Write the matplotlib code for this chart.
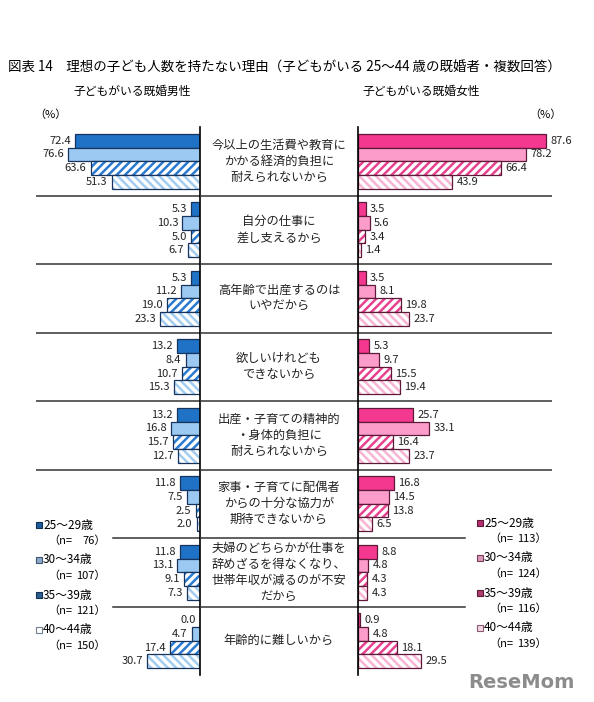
"""図表14: 理想の子ども人数を持たない理由 (male / female butterfly bars)."""

import matplotlib
matplotlib.use("Agg")
import matplotlib.pyplot as plt
from matplotlib.patches import Rectangle

plt.rcParams["font.family"] = ["Noto Sans CJK JP", "DejaVu Sans"]
plt.rcParams["hatch.linewidth"] = 1.8

W, H = 594, 702

reasons = [
    "今以上の生活費や教育に\nかかる経済的負担に\n耐えられないから",
    "自分の仕事に\n差し支えるから",
    "高年齢で出産するのは\nいやだから",
    "欲しいけれども\nできないから",
    "出産・子育ての精神的\n・身体的負担に\n耐えられないから",
    "家事・子育てに配偶者\nからの十分な協力が\n期待できないから",
    "夫婦のどちらかが仕事を\n辞めざるを得なくなり、\n世帯年収が減るのが不安\nだから",
    "年齢的に難しいから",
]
ages = ["25～29歳", "30～34歳", "35～39歳", "40～44歳"]
n_male = [76, 107, 121, 150]
n_female = [113, 124, 116, 139]

male = [
    [72.4, 5.3, 5.3, 13.2, 13.2, 11.8, 11.8, 0.0],
    [76.6, 10.3, 11.2, 8.4, 16.8, 7.5, 13.1, 4.7],
    [63.6, 5.0, 19.0, 10.7, 15.7, 2.5, 9.1, 17.4],
    [51.3, 6.7, 23.3, 15.3, 12.7, 2.0, 7.3, 30.7],
]
female = [
    [87.6, 3.5, 3.5, 5.3, 25.7, 16.8, 8.8, 0.9],
    [78.2, 5.6, 8.1, 9.7, 33.1, 14.5, 4.8, 4.8],
    [66.4, 3.4, 19.8, 15.5, 16.4, 13.8, 4.3, 18.1],
    [43.9, 1.4, 23.7, 19.4, 23.7, 6.5, 4.3, 29.5],
]

# (face, hatch colour, hatch) per age band
male_style = [("#1f72c6", None, None), ("#9cc9f2", None, None),
              ("white", "#2a7ad2", "////"), ("white", "#a3cdf0", "\\\\\\\\")]
female_style = [("#f4378f", None, None), ("#fb9ccb", None, None),
                ("white", "#e8418f", "////"), ("white", "#f8b4d3", "\\\\\\\\")]
male_edge = "#17345e"
female_edge = "#5e1838"
male_icon = [("#1d5c9a", "#0f2f55"), ("#8fa9c4", "#3a5574"),
             ("#2c5d8e", "#0f2f55"), ("white", "#6f7f90")]
female_icon = [("#b42f6d", "#5e1838"), ("#d99ab9", "#7a3b58"),
               ("#b0406f", "#5e1838"), ("#f4d6e4", "#8a5a70")]


def fx(px):
    return px / W


def fy(py):
    return 1 - py / H


fig = plt.figure(figsize=(W / 100, H / 100), dpi=100)

top, bot = 127, 675
ax_h = (bot - top) / H
axL = fig.add_axes([fx(36), fy(bot), (200 - 36) / W, ax_h])
axM = fig.add_axes([fx(200), fy(bot), (358 - 200) / W, ax_h])
axR = fig.add_axes([fx(358), fy(bot), (552 - 358) / W, ax_h])

axL.set_xlim((200 - 36) / 1.72, 0)
axR.set_xlim(0, (552 - 358) / 2.15)
axM.set_xlim(0, 1)
for ax in (axL, axM, axR):
    ax.set_ylim(len(reasons) - 0.5, -0.5)
    ax.set_xticks([])
    ax.set_yticks([])
    for s in ax.spines.values():
        s.set_visible(False)
    ax.patch.set_alpha(0)
axL.spines["right"].set_visible(True)
axR.spines["left"].set_visible(True)
axL.spines["right"].set_linewidth(1.2)
axR.spines["left"].set_linewidth(1.2)

bh = 0.2


def draw_side(ax, data, style, edge, sign):
    for j, vals in enumerate(data):
        face, hc, hatch = style[j]
        ys = [i + (j - 1.5) * bh for i in range(len(vals))]
        if hatch:
            ax.barh(ys, vals, height=bh, color=face, edgecolor=hc,
                    hatch=hatch, linewidth=0)
            ax.barh(ys, vals, height=bh, color="none", edgecolor=edge,
                    linewidth=0.9)
        else:
            ax.barh(ys, vals, height=bh, color=face, edgecolor=edge,
                    linewidth=0.9)
        for y, v in zip(ys, vals):
            ax.annotate(f"{v:.1f}", (v, y), xytext=(3 * sign, 0),
                        textcoords="offset points", va="center",
                        ha="left" if sign > 0 else "right", fontsize=8,
                        color="#222222")


draw_side(axL, male, male_style, male_edge, -1)
draw_side(axR, female, female_style, female_edge, 1)

for i, r in enumerate(reasons):
    axM.text(0.5, i, r, ha="center", va="center", fontsize=8.8,
             linespacing=1.3, color="#222222")

# group separators
for k in range(len(reasons) - 1):
    y = k + 0.5
    lower = k >= 5
    axL.axhline(y, xmin=0.47 if lower else 0, xmax=1, color="#333333", lw=1.1)
    axM.axhline(y, color="#333333", lw=1.1)
    axR.axhline(y, xmin=0, xmax=0.55 if lower else 1, color="#333333", lw=1.1)

# titles
fig.text(fx(8), fy(68), "図表 14　理想の子ども人数を持たない理由（子どもがいる 25～44 歳の既婚者・複数回答）",
         fontsize=9.7, va="center", ha="left")
fig.text(fx(132), fy(91), "子どもがいる既婚男性", fontsize=8.5, ha="center", va="center")
fig.text(fx(421), fy(91), "子どもがいる既婚女性", fontsize=8.5, ha="center", va="center")
fig.text(fx(34), fy(115), "（%）", fontsize=8, ha="left", va="center")
fig.text(fx(562), fy(115), "（%）", fontsize=8, ha="right", va="center")


def legend(x0, y0, icons, ns, step=35):
    for j, (age, n) in enumerate(zip(ages, ns)):
        y = y0 + j * step
        face, ec = icons[j]
        fig.add_artist(Rectangle((fx(x0), fy(y + 3)), 6 / W, 6 / H,
                                 facecolor=face, edgecolor=ec, lw=0.8,
                                 transform=fig.transFigure))
        fig.text(fx(x0 + 7), fy(y), age, fontsize=8.5, va="center", ha="left")
        fig.text(fx(x0 + 12), fy(y + 16), "（n=", fontsize=8, va="center", ha="left")
        fig.text(fx(x0 + 70), fy(y + 16), f"{n}）", fontsize=8, va="center", ha="right")


legend(36, 525, male_icon, n_male)
legend(477, 523, female_icon, n_female)

fig.text(fx(575), fy(682), "ReseMom", fontsize=14, fontweight="bold",
         color="#8c8c8c", ha="right", va="center", family="DejaVu Sans")

fig.savefig("out.png", dpi=100)
